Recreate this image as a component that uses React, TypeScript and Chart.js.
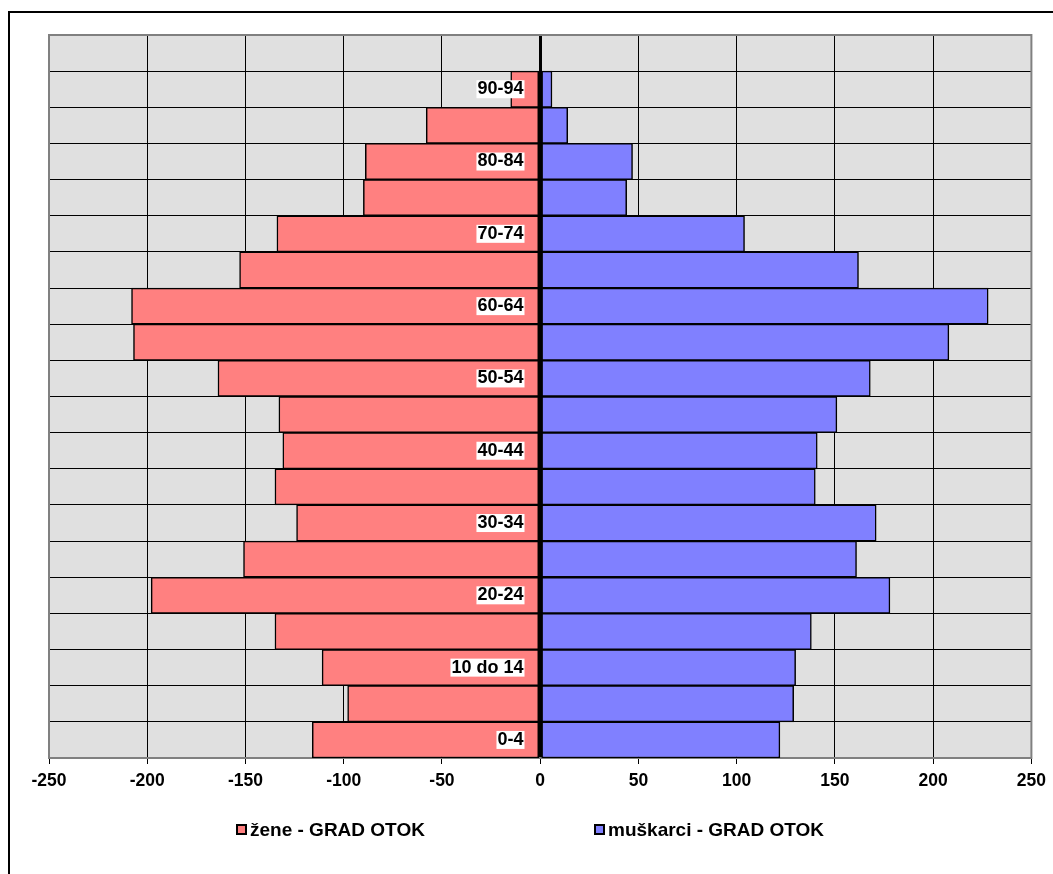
import React, { useEffect, useRef } from 'react';
import { Chart, registerables } from 'chart.js';

Chart.register(...registerables);

// Age groups, bottom to top
const ageGroups = [
  '0-4', '5-9', '10 do 14', '15-19', '20-24', '25-29', '30-34', '35-39', '40-44', '45-49',
  '50-54', '55-59', '60-64', '65-69', '70-74', '75-79', '80-84', '85-89', '90-94', '95+',
];

// žene (women) shown as negative values
const zene = [
  -116, -98, -111, -135, -198, -151, -124, -135, -131, -133,
  -164, -207, -208, -153, -134, -90, -89, -58, -15, 0,
];

// muškarci (men)
const muskarci = [
  122, 129, 130, 138, 178, 161, 171, 140, 141, 151,
  168, 208, 228, 162, 104, 44, 47, 14, 6, 0,
];

const seriesLabels = ['žene - GRAD OTOK', 'muškarci - GRAD OTOK'];
const seriesColors = ['#FF8080', '#8080FF'];

const xMin = -250;
const xMax = 250;
const xStep = 50;

const FONT = '"Liberation Sans", Arial, sans-serif';

const plotFrame = {
  id: 'plotFrame',
  beforeDraw(chart: any) {
    const { ctx, chartArea } = chart;
    ctx.save();
    ctx.fillStyle = '#E0E0E0';
    ctx.fillRect(chartArea.left, chartArea.top, chartArea.width, chartArea.height);
    ctx.restore();
  },
  beforeDatasetsDraw(chart: any) {
    const { ctx, chartArea } = chart;
    ctx.save();
    ctx.strokeStyle = '#808080';
    ctx.lineWidth = 2;
    ctx.strokeRect(chartArea.left, chartArea.top, chartArea.width, chartArea.height);
    ctx.restore();
  },
};

export default function App() {
  const canvasRef = useRef<HTMLCanvasElement>(null);

  useEffect(() => {
    const canvas = canvasRef.current;
    if (!canvas) return;
    const chart = new Chart(canvas, {
      type: 'bar',
      data: {
        labels: ageGroups,
        datasets: [
          {
            label: seriesLabels[0],
            data: zene,
            backgroundColor: seriesColors[0],
            borderColor: '#000',
            borderWidth: 1.5,
            borderSkipped: false,
            barPercentage: 1,
            categoryPercentage: 1,
          },
          {
            label: seriesLabels[1],
            data: muskarci,
            backgroundColor: seriesColors[1],
            borderColor: '#000',
            borderWidth: 1.5,
            borderSkipped: false,
            barPercentage: 1,
            categoryPercentage: 1,
          },
        ],
      },
      options: {
        indexAxis: 'y',
        animation: false,
        responsive: false,
        maintainAspectRatio: false,
        layout: { padding: { left: 49, right: 18, top: 35, bottom: 75 } },
        plugins: {
          legend: { display: false },
          tooltip: { enabled: false },
        },
        scales: {
          x: {
            type: 'linear',
            min: xMin,
            max: xMax,
            stacked: true,
            ticks: {
              stepSize: xStep,
              color: '#000',
              padding: 7,
              font: { family: FONT, size: 17.5, weight: 'bold' },
            },
            grid: {
              color: '#000',
              lineWidth: (ctx: any) => (ctx.tick && ctx.tick.value === 0 ? 3 : 1),
              drawTicks: true,
              tickLength: 6,
              tickColor: '#000',
              tickWidth: 1,
            },
            border: { display: false },
          },
          y: {
            type: 'category',
            reverse: true,
            stacked: true,
            offset: true,
            position: { x: -8.5 } as any,
            ticks: {
              autoSkip: false,
              padding: 0,
              color: '#000',
              z: 1,
              font: { family: FONT, size: 18, weight: 'bold', lineHeight: 1 },
              showLabelBackdrop: (ctx: any) => ctx.index % 2 === 0,
              backdropColor: '#FFFFFF',
              backdropPadding: { top: 0, bottom: 0, left: 1, right: 1 },
              callback: (_v: any, idx: number) => (idx % 2 === 0 ? ageGroups[idx] : ''),
            } as any,
            grid: {
              color: '#000',
              lineWidth: 1,
              drawTicks: false,
            },
            border: { display: false },
          },
        },
      } as any,
      plugins: [plotFrame],
    });
    return () => chart.destroy();
  }, []);

  const legendPos = [
    { box: 236, text: 250 },
    { box: 594, text: 608 },
  ];

  return (
    <div
      style={{
        position: 'fixed',
        left: 0,
        top: 0,
        width: 1053,
        height: 874,
        overflow: 'hidden',
        background: '#fff',
        fontFamily: FONT,
      }}
    >
      <div
        style={{
          position: 'absolute',
          left: 8,
          top: 11,
          width: 1100,
          height: 900,
          borderLeft: '2px solid #000',
          borderTop: '2px solid #000',
        }}
      />
      <canvas
        ref={canvasRef}
        width={1053}
        height={874}
        style={{ position: 'absolute', left: 0, top: 0 }}
      />
      {seriesLabels.map((lbl, i) => (
        <React.Fragment key={lbl}>
          <div
            style={{
              position: 'absolute',
              left: legendPos[i].box,
              top: 824,
              width: 11,
              height: 11,
              boxSizing: 'border-box',
              background: seriesColors[i],
              border: '2px solid #000',
            }}
          />
          <div
            style={{
              position: 'absolute',
              left: legendPos[i].text,
              top: 820,
              fontSize: 19,
              lineHeight: '19px',
              fontWeight: 'bold',
              color: '#000',
              whiteSpace: 'nowrap',
            }}
          >
            {lbl}
          </div>
        </React.Fragment>
      ))}
    </div>
  );
}
